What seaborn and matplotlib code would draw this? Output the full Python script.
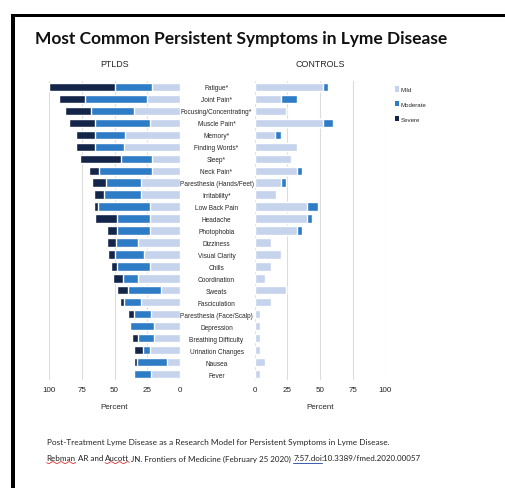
import matplotlib
matplotlib.use("Agg")
import matplotlib.pyplot as plt
import seaborn as sns
import pandas as pd
import numpy as np
from matplotlib.patches import Patch, Rectangle
from matplotlib.lines import Line2D

symptoms = ["Fatigue*", "Joint Pain*", "Focusing/Concentrating*", "Muscle Pain*", "Memory*",
            "Finding Words*", "Sleep*", "Neck Pain*", "Paresthesia (Hands/Feet)", "Irritability*",
            "Low Back Pain", "Headache", "Photophobia", "Dizziness", "Visual Clarity", "Chills",
            "Coordination", "Sweats", "Fasciculation", "Paresthesia (Face/Scalp)", "Depression",
            "Breathing Difficulty", "Urination Changes", "Nausea", "Fever"]

ptlds_mild = [21.5, 24.8, 34.8, 22.8, 41.9, 42.7, 21.5, 21.5, 29.7, 29.7, 22.8, 22.8, 22.8,
              31.7, 27.6, 22.8, 31.7, 14.6, 29.7, 21.8, 19.7, 19.7, 22.8, 9.7, 21.8]
ptlds_moderate = [28.1, 47.8, 33.0, 41.9, 22.8, 22.0, 23.5, 40.4, 26.8, 28.1, 39.9, 25.1, 25.1,
                  17.1, 22.0, 25.1, 12.0, 25.3, 13.0, 13.0, 18.2, 12.0, 5.1, 23.0, 13.0]
ptlds_severe = [50.4, 20.2, 20.2, 20.2, 15.0, 15.0, 31.7, 7.9, 10.5, 8.1, 3.3, 17.3, 8.1,
                7.1, 5.4, 5.1, 7.2, 8.0, 3.1, 5.1, 0.0, 5.1, 6.9, 2.1, 0.0]

ctrl_mild = [52.2, 20.3, 24.1, 52.2, 15.9, 32.3, 28.2, 32.3, 20.3, 16.2, 40.2, 40.2, 32.3,
             12.4, 20.3, 12.4, 8.3, 24.1, 12.4, 4.2, 4.2, 4.2, 4.2, 8.3, 4.2]
ctrl_moderate = [4.3, 12.0, 0.0, 8.1, 4.4, 0.0, 0.0, 4.1, 3.8, 0.0, 8.2, 4.1, 4.1,
                 0, 0, 0, 0, 0, 0, 0, 0, 0, 0, 0, 0]
ctrl_severe = [0.0] * 25

xticks = [0, 25, 50, 75, 100]
legend_labels = ["Mild", "Moderate", "Severe"]

title = "Most Common Persistent Symptoms in Lyme Disease"
foot1 = "Post-Treatment Lyme Disease as a Research Model for Persistent Symptoms in Lyme Disease."
foot2_parts = ["Rebman", " AR and ", "Aucott", " JN. Frontiers of Medicine (February 25 2020) ",
               "7:57.doi", ":10.3389/fmed.2020.00057"]

C_MILD = "#c5d3ec"
C_MOD = "#2e7cc6"
C_SEV = "#14254a"
GRID = "#dcdcdc"
FOOT_FONT = ["Lato", "DejaVu Sans"]

sns.set_style("white")
plt.rcParams["font.family"] = ["Liberation Sans", "DejaVu Sans"]

W, H = 505, 489
fig = plt.figure(figsize=(W / 100, H / 100), dpi=100)
fig.patch.set_facecolor("white")

def df_for(mild, mod, sev):
    d = pd.DataFrame({"symptom": symptoms, "mild": mild, "mod": mod, "sev": sev})
    d["mm"] = d["mild"] + d["mod"]
    d["total"] = d["mm"] + d["sev"]
    return d

ptlds = df_for(ptlds_mild, ptlds_moderate, ptlds_severe)
ctrl = df_for(ctrl_mild, ctrl_moderate, ctrl_severe)

ax_b = (H - 381) / H
ax_h = 299 / H
axL = fig.add_axes([49.3 / W, ax_b, 130.4 / W, ax_h])
axR = fig.add_axes([254.5 / W, ax_b, 130.8 / W, ax_h])

for ax, d in ((axL, ptlds), (axR, ctrl)):
    ax.set_axisbelow(True)
    sns.barplot(data=d, y="symptom", x="total", color=C_SEV, orient="h", width=0.7,
                ax=ax, saturation=1)
    sns.barplot(data=d, y="symptom", x="mm", color=C_MOD, orient="h", width=0.7,
                ax=ax, saturation=1)
    sns.barplot(data=d, y="symptom", x="mild", color=C_MILD, orient="h", width=0.7,
                ax=ax, saturation=1)
    ax.set_xticks(xticks)
    ax.set_xticklabels([str(t) for t in xticks], fontsize=5.8)
    ax.xaxis.grid(True, color=GRID, lw=0.8)
    ax.yaxis.grid(False)
    for s in ax.spines.values():
        s.set_visible(False)
    ax.tick_params(axis="x", length=0, pad=4.5)
    ax.set_xlabel("Percent", fontsize=5.8, labelpad=7)
    ax.set_ylabel("")
    ax.set_ylim(24.5, -0.5)

axL.set_xlim(100, 0)
axR.set_xlim(0, 100)

axL.yaxis.tick_right()
axL.tick_params(axis="y", length=0, pad=26.5, labelsize=4.7)
for lab in axL.get_yticklabels():
    lab.set_ha("center")
axR.set_yticks([])

axL.set_title("PTLDS", fontsize=6.4, pad=10.5)
axR.set_title("CONTROLS", fontsize=6.4, pad=10.5)

handles = [Patch(facecolor=c, edgecolor="none") for c in (C_MILD, C_MOD, C_SEV)]
fig.legend(handles, legend_labels, loc="upper left", bbox_to_anchor=(393 / W, 1 - 85 / H),
           frameon=False, fontsize=4.4, handlelength=0.6, handleheight=0.9,
           handletextpad=0.3, labelspacing=1.5, borderaxespad=0)

renderer = fig.canvas.get_renderer()

# title, sized to span the same width as in the reference
tt = fig.text(35 / W, 1 - 39 / H, title, fontsize=11.5, fontweight="bold",
              family=["Lato", "DejaVu Sans"], va="center", ha="left", color="#111111")
tw = tt.get_window_extent(renderer).width
tt.set_fontsize(11.5 * 413.0 / tw)

f1 = fig.text(46.7 / W, 1 - 443 / H, foot1, fontsize=6.0, family=FOOT_FONT,
              va="center", ha="left", color="#222222")
f1w = f1.get_window_extent(renderer).width
f1.set_fontsize(6.0 * 341.0 / f1w)

# second footnote line, drawn piece by piece so the underlines can follow the words
full2 = "".join(foot2_parts)
probe = fig.text(0, 0, full2, fontsize=6.0, family=FOOT_FONT)
fs2 = 6.0 * 378.0 / probe.get_window_extent(renderer).width
probe.remove()

x_px = 46.7
y_px = 459
for i, part in enumerate(foot2_parts):
    t = fig.text(x_px / W, 1 - y_px / H, part, fontsize=fs2, family=FOOT_FONT,
                 va="center", ha="left", color="#222222")
    w_px = t.get_window_extent(renderer).width
    if i in (0, 2):
        xs = np.linspace(x_px, x_px + w_px, 40)
        ys = y_px + 4.6 + 0.9 * np.sin((xs - x_px) / 1.3)
        fig.add_artist(Line2D(xs / W, 1 - ys / H, transform=fig.transFigure,
                              color="#e03030", lw=0.6))
    if i == 4:
        fig.add_artist(Line2D([x_px / W, (x_px + w_px) / W], [1 - (y_px + 4.5) / H] * 2,
                              transform=fig.transFigure, color="#3a5bb0", lw=0.7))
    x_px += w_px

# black frame (top and left)
fig.add_artist(Rectangle((11 / W, 1 - 18 / H), 1 - 11 / W, 3 / H, transform=fig.transFigure,
                         facecolor="black", edgecolor="none"))
fig.add_artist(Rectangle((11 / W, 0), 4 / W, 1 - 15 / H, transform=fig.transFigure,
                         facecolor="black", edgecolor="none"))

fig.savefig("out.png", dpi=100, facecolor="white")
